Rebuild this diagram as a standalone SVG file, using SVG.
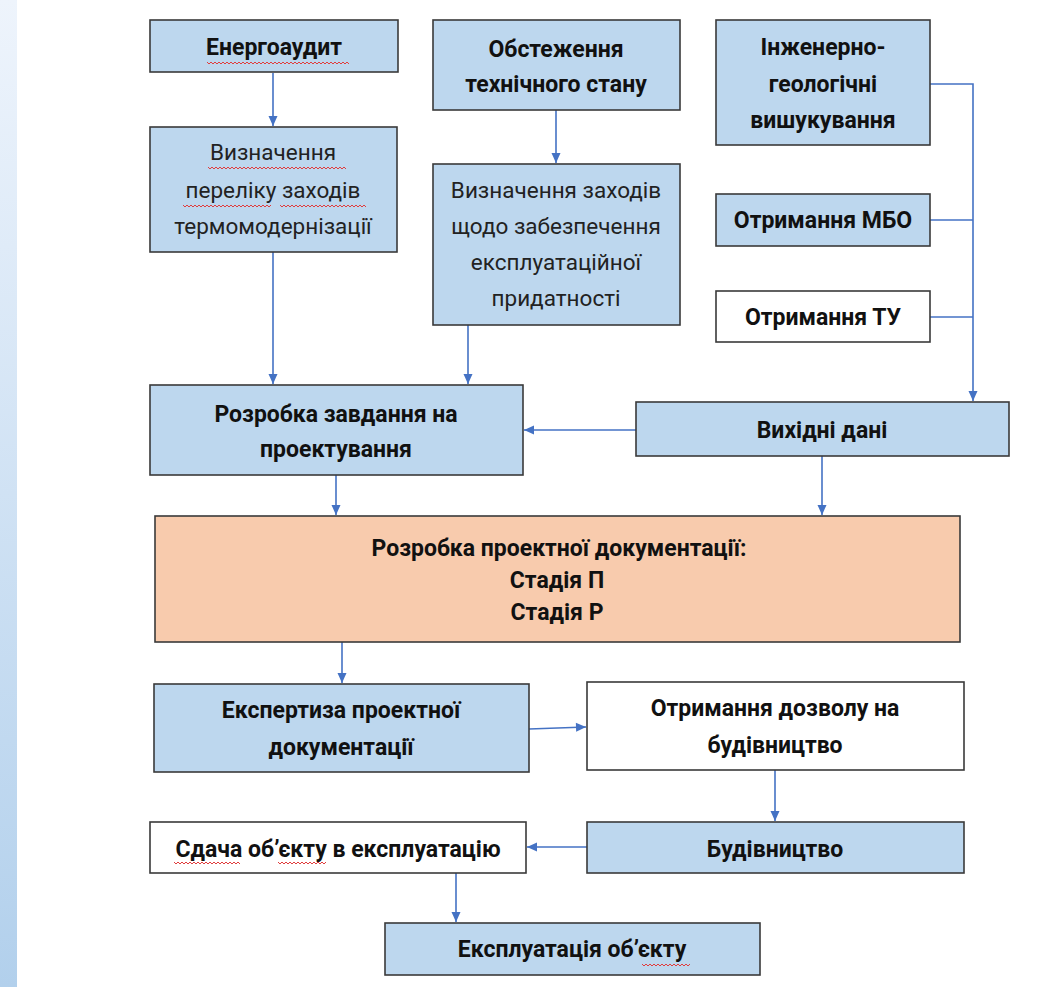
<svg xmlns="http://www.w3.org/2000/svg" width="1038" height="987" viewBox="0 0 1038 987">
<defs>
<linearGradient id="strip" x1="0" y1="0" x2="0" y2="1">
<stop offset="0" stop-color="#EEF4FC"/>
<stop offset="1" stop-color="#B2D0EC"/>
</linearGradient>
<marker id="ah" markerUnits="userSpaceOnUse" markerWidth="12" markerHeight="12" viewBox="0 0 12 12" refX="11" refY="6" orient="auto">
<path d="M1,1.5 L11,6 L1,10.5 Z" fill="#4472C4"/>
</marker>
<style>
.box{stroke:#3A3A3A;stroke-width:1.6}
.blue{fill:#BDD7EE}
.white{fill:#FFFFFF}
.peach{fill:#F8CBAD}
.b{font-family:Roboto,"Liberation Sans",sans-serif;font-weight:700;font-size:23px;fill:#111;text-anchor:middle}
.r{font-family:Roboto,"Liberation Sans",sans-serif;font-weight:400;font-size:22.5px;fill:#222;text-anchor:middle}
.c{fill:none;stroke:#4472C4;stroke-width:1.6}
.w{fill:none;stroke:#E03C3C;stroke-width:1}
</style>
</defs>
<rect x="0" y="0" width="1038" height="987" fill="#FFFFFF"/>
<rect x="0" y="0" width="17" height="987" fill="url(#strip)"/>

<g id="connectors">
<path class="c" d="M273,73 V126" marker-end="url(#ah)"/>
<path class="c" d="M556,110 V163" marker-end="url(#ah)"/>
<path class="c" d="M273,252 V384" marker-end="url(#ah)"/>
<path class="c" d="M468,325 V384" marker-end="url(#ah)"/>
<path class="c" d="M930,84 H973 V401" marker-end="url(#ah)"/>
<path class="c" d="M930,220 H973"/>
<path class="c" d="M930,317 H973"/>
<path class="c" d="M636,430 H524" marker-end="url(#ah)"/>
<path class="c" d="M336,475 V515" marker-end="url(#ah)"/>
<path class="c" d="M822,456 V515" marker-end="url(#ah)"/>
<path class="c" d="M342,642 V683" marker-end="url(#ah)"/>
<path class="c" d="M529,729 L586,727" marker-end="url(#ah)"/>
<path class="c" d="M775,770 V821" marker-end="url(#ah)"/>
<path class="c" d="M587,847 H527" marker-end="url(#ah)"/>
<path class="c" d="M456,873 V922" marker-end="url(#ah)"/>
</g>

<g id="n1"><rect class="box blue" x="150" y="20" width="248" height="52"/>
<text class="b" x="274" y="55">Енергоаудит</text>
<path class="w" d="M207,62 l2,2 l2,-2 l2,2 l2,-2 l2,2 l2,-2 l2,2 l2,-2 l2,2 l2,-2 l2,2 l2,-2 l2,2 l2,-2 l2,2 l2,-2 l2,2 l2,-2 l2,2 l2,-2 l2,2 l2,-2 l2,2 l2,-2 l2,2 l2,-2 l2,2 l2,-2 l2,2 l2,-2 l2,2 l2,-2 l2,2 l2,-2 l2,2 l2,-2 l2,2 l2,-2 l2,2 l2,-2 l2,2 l2,-2 l2,2 l2,-2 l2,2 l2,-2 l2,2 l2,-2 l2,2 l2,-2 l2,2 l2,-2 l2,2 l2,-2 l2,2 l2,-2 l2,2 l2,-2 l2,2 l2,-2 l2,2 l2,-2 l2,2 l2,-2 l2,2 l2,-2 l2,2 l2,-2 l2,2 l2,-2 l2,2"/>
</g>

<g id="n2"><rect class="box blue" x="150" y="127" width="247" height="125"/>
<text class="r" x="273" y="160">Визначення</text>
<text class="r" x="273" y="198">переліку заходів</text>
<text class="r" x="273" y="234">термомодернізації</text>
<path class="w" d="M208,167 l2,2 l2,-2 l2,2 l2,-2 l2,2 l2,-2 l2,2 l2,-2 l2,2 l2,-2 l2,2 l2,-2 l2,2 l2,-2 l2,2 l2,-2 l2,2 l2,-2 l2,2 l2,-2 l2,2 l2,-2 l2,2 l2,-2 l2,2 l2,-2 l2,2 l2,-2 l2,2 l2,-2 l2,2 l2,-2 l2,2 l2,-2 l2,2 l2,-2 l2,2 l2,-2 l2,2 l2,-2 l2,2 l2,-2 l2,2 l2,-2 l2,2 l2,-2 l2,2 l2,-2 l2,2 l2,-2 l2,2 l2,-2 l2,2 l2,-2 l2,2 l2,-2 l2,2 l2,-2 l2,2 l2,-2 l2,2 l2,-2 l2,2 l2,-2 l2,2 l2,-2 l2,2 l2,-2 l2,2"/>
<path class="w" d="M183,205 l2,2 l2,-2 l2,2 l2,-2 l2,2 l2,-2 l2,2 l2,-2 l2,2 l2,-2 l2,2 l2,-2 l2,2 l2,-2 l2,2 l2,-2 l2,2 l2,-2 l2,2 l2,-2 l2,2 l2,-2 l2,2 l2,-2 l2,2 l2,-2 l2,2 l2,-2 l2,2 l2,-2 l2,2 l2,-2 l2,2 l2,-2 l2,2 l2,-2 l2,2 l2,-2 l2,2 l2,-2 l2,2 l2,-2 l2,2 l2,-2"/>
<path class="w" d="M280,205 l2,2 l2,-2 l2,2 l2,-2 l2,2 l2,-2 l2,2 l2,-2 l2,2 l2,-2 l2,2 l2,-2 l2,2 l2,-2 l2,2 l2,-2 l2,2 l2,-2 l2,2 l2,-2 l2,2 l2,-2 l2,2 l2,-2 l2,2 l2,-2 l2,2 l2,-2 l2,2 l2,-2 l2,2 l2,-2 l2,2 l2,-2 l2,2 l2,-2 l2,2 l2,-2 l2,2 l2,-2 l2,2 l2,-2 l2,2"/>
</g>

<g id="n3"><rect class="box blue" x="433" y="20" width="247" height="90"/>
<text class="b" x="556" y="57">Обстеження</text>
<text class="b" x="556" y="92">технічного стану</text>
</g>

<g id="n4"><rect class="box blue" x="433" y="164" width="247" height="161"/>
<text class="r" x="556" y="198">Визначення заходів</text>
<text class="r" x="556" y="234">щодо забезпечення</text>
<text class="r" x="556" y="270">експлуатаційної</text>
<text class="r" x="556" y="306">придатності</text>
</g>

<g id="n5"><rect class="box blue" x="716" y="20" width="214" height="125"/>
<text class="b" x="823" y="55">Інженерно-</text>
<text class="b" x="823" y="92">геологічні</text>
<text class="b" x="823" y="128">вишукування</text>
</g>

<g id="n6"><rect class="box blue" x="716" y="194" width="214" height="52"/>
<text class="b" x="823" y="228">Отримання МБО</text>
</g>

<g id="n7"><rect class="box white" x="716" y="291" width="214" height="51"/>
<text class="b" x="823" y="325">Отримання ТУ</text>
</g>

<g id="n8"><rect class="box blue" x="636" y="402" width="373" height="54"/>
<text class="b" x="822" y="438">Вихідні дані</text>
</g>

<g id="n9"><rect class="box blue" x="150" y="385" width="373" height="90"/>
<text class="b" x="336" y="422">Розробка завдання на</text>
<text class="b" x="336" y="457">проектування</text>
</g>

<g id="n10"><rect class="box peach" x="155" y="516" width="805" height="126"/>
<text class="b" x="559" y="556">Розробка проектної документації:</text>
<text class="b" x="557" y="588">Стадія П</text>
<text class="b" x="557" y="620">Стадія Р</text>
</g>

<g id="n11"><rect class="box blue" x="154" y="684" width="375" height="88"/>
<text class="b" x="341" y="718">Експертиза проектної</text>
<text class="b" x="341" y="755">документації</text>
</g>

<g id="n12"><rect class="box white" x="587" y="682" width="377" height="88"/>
<text class="b" x="775" y="716">Отримання дозволу на</text>
<text class="b" x="775" y="753">будівництво</text>
</g>

<g id="n13"><rect class="box blue" x="587" y="822" width="377" height="51"/>
<text class="b" x="775" y="857">Будівництво</text>
</g>

<g id="n14"><rect class="box white" x="150" y="822" width="376" height="51"/>
<text class="b" x="338" y="857">Сдача об’єкту в експлуатацію</text>
<path class="w" d="M174,862 l2,2 l2,-2 l2,2 l2,-2 l2,2 l2,-2 l2,2 l2,-2 l2,2 l2,-2 l2,2 l2,-2 l2,2 l2,-2 l2,2 l2,-2 l2,2 l2,-2 l2,2 l2,-2 l2,2 l2,-2 l2,2 l2,-2 l2,2 l2,-2 l2,2 l2,-2 l2,2 l2,-2 l2,2 l2,-2 l2,2"/>
<path class="w" d="M278,862 l2,2 l2,-2 l2,2 l2,-2 l2,2 l2,-2 l2,2 l2,-2 l2,2 l2,-2 l2,2 l2,-2 l2,2 l2,-2 l2,2 l2,-2 l2,2 l2,-2 l2,2 l2,-2 l2,2 l2,-2 l2,2 l2,-2"/>
</g>

<g id="n15"><rect class="box blue" x="385" y="923" width="375" height="52"/>
<text class="b" x="572" y="957">Експлуатація об’єкту</text>
<path class="w" d="M642,964 l2,2 l2,-2 l2,2 l2,-2 l2,2 l2,-2 l2,2 l2,-2 l2,2 l2,-2 l2,2 l2,-2 l2,2 l2,-2 l2,2 l2,-2 l2,2 l2,-2 l2,2 l2,-2 l2,2 l2,-2 l2,2 l2,-2"/>
</g>
</svg>
